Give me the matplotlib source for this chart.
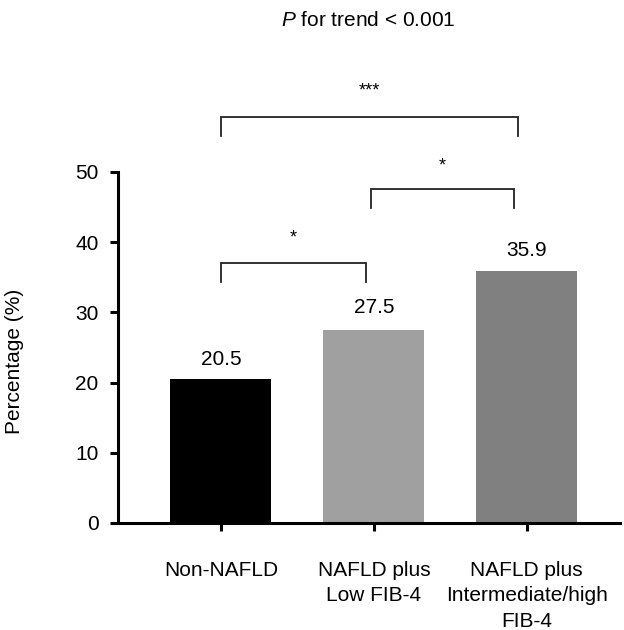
import matplotlib
matplotlib.use("Agg")
import matplotlib.pyplot as plt

plt.rcParams['font.family'] = ['Liberation Sans', 'DejaVu Sans']
plt.rcParams['mathtext.fontset'] = 'custom'
plt.rcParams['mathtext.rm'] = 'Liberation Sans'
plt.rcParams['mathtext.it'] = 'Liberation Sans:italic'

categories = ["Non-NAFLD", "NAFLD plus\nLow FIB-4", "NAFLD plus\nIntermediate/high\nFIB-4"]
values = [20.5, 27.5, 35.9]
bar_colors = ["#000000", "#a0a0a0", "#808080"]
label_y = [22.5, 29.9, 38.0]
# brackets: (x_left, x_right, y_top, y_leg, star_text, star_y)
brackets = [
    (0.0, 0.95, 37.0, 34.3, "*", 40.6),
    (0.98, 1.92, 47.6, 44.9, "*", 50.9),
    (0.0, 1.94, 57.8, 55.1, "***", 61.5),
]
yticks = [0, 10, 20, 30, 40, 50]
FS = 15

fig = plt.figure(figsize=(6.24, 6.30), dpi=100)
ax = fig.add_axes([118/624, 107/630, 502/624, 351/630])
x = list(range(len(categories)))
ax.bar(x, values, width=0.66, color=bar_colors, zorder=2)
for xi, v, ly in zip(x, values, label_y):
    ax.text(xi, ly, f"{v:.1f}", ha='center', va='baseline', fontsize=FS)

for xl, xr, yt, yl, s, sy in brackets:
    ax.plot([xl, xl, xr, xr], [yl, yt, yt, yl], color='#222222', lw=1.3,
            clip_on=False, solid_joinstyle='miter')
    ax.text((xl + xr) / 2, sy, s, ha='center', va='center', fontsize=13)

ax.set_xlim(-0.673, 2.61)
ax.set_ylim(0, 50)
ax.set_yticks(yticks)
ax.set_xticks(x)
ax.set_xticklabels(categories, fontsize=FS, linespacing=1.45, va='top')
ax.tick_params(axis='y', labelsize=FS, width=2.2, length=6, pad=8)
ax.tick_params(axis='x', width=2.2, length=6, pad=21)
for sp in ['top', 'right']:
    ax.spines[sp].set_visible(False)
for sp in ['left', 'bottom']:
    ax.spines[sp].set_linewidth(2.2)
ax.set_ylabel("Percentage (%)", fontsize=FS)
ax.yaxis.set_label_coords(-0.187, 0.46)

fig.text(368/624, 1 - 20/630, r"$\mathit{P}$ for trend < 0.001", ha='center', va='center', fontsize=FS)

fig.savefig("out.png", dpi=100)
